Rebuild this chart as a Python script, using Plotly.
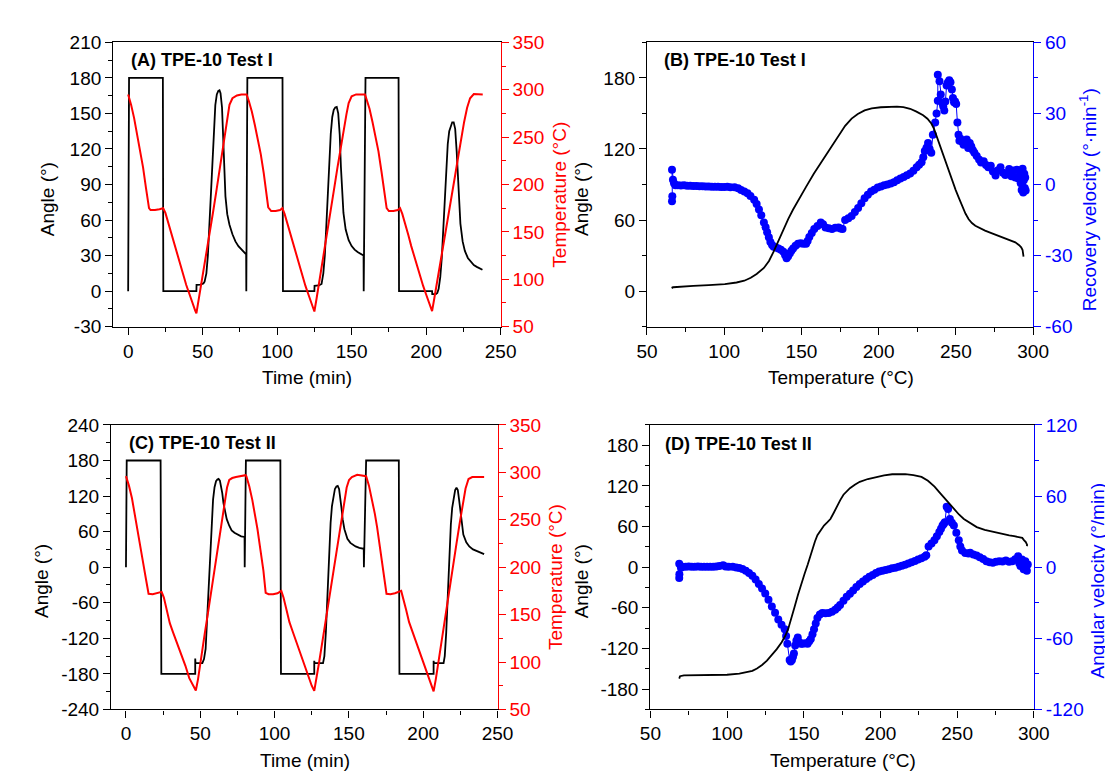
import plotly.graph_objects as go

# ---------------- data ----------------
# (A) TPE-10 Test I : angle (deg) and temperature (C) vs time (min)
a_ang_t = [0, 0.6, 23.3, 23.6, 45.8, 45.9, 48.5, 50.5, 51.3, 52.5, 53.5, 54.5, 55.5, 56.5, 57.5, 58.5,
           59.5, 60.5, 61.3, 62, 63, 63.8, 64.5, 65.3, 66.5, 68, 70, 72, 74, 76, 78, 79.2, 79.3, 80,
           103.6, 103.9,
           125, 125.1, 128, 129.8, 131, 132, 133, 134, 135, 136, 137, 138, 139, 140, 141, 142, 142.8,
           143.5, 144.5, 146, 148, 150, 152, 154, 156, 158, 158.1, 159.3, 181.5, 181.8,
           204, 204.1, 206.5, 207.5, 208.4, 209.5, 210.5, 211.5, 212.5, 213.5, 214.5, 215.5, 216.5,
           217.5, 218.5, 219.5, 220.5, 221.3, 222, 223, 224.5, 226, 228, 230, 232, 234, 236, 237.8]
a_ang = [0, 180, 180, 0, 0, 5.3, 5.5, 6.5, 8, 15, 30, 55, 85, 115, 140, 157,
         166, 169, 169.5, 167, 155, 130, 100, 80, 65, 56, 48, 42, 38, 35, 32.5, 31, 0, 180,
         180, 0,
         0, 4.5, 4.8, 6, 15, 30, 55, 85, 112, 133, 147, 153, 155, 155.5, 150, 132, 105,
         85, 66, 52, 43, 38, 35, 33, 31.5, 30, 0, 180, 180, 0,
         0, -2.5, -2.5, -1.5, 2, 12, 28, 52, 80, 105, 124, 135, 140,
         142.5, 142.5, 137, 118, 95, 75, 57, 42, 34, 28, 24.5, 22, 20.5, 19, 18]
a_tmp_t = [0, 2, 4, 6, 8, 10, 12, 14, 15, 18, 21, 23.5, 25, 27, 29, 31, 33, 35, 37, 39,
           41, 43, 45, 45.8, 47, 49, 51, 53, 55, 57, 59, 61, 63, 65, 66.5, 68, 70, 73, 76, 79.5,
           81, 83, 85, 87, 89, 91, 93, 94, 96, 99, 102, 103.5, 105, 107, 109, 111, 113, 115, 117, 119,
           121, 123, 125, 126.5, 128.5, 130.5, 132.5, 134.5, 136.5, 138.5, 140.5, 142.5, 144.5, 146.5,
           148, 150, 153, 156, 159,
           160, 162, 164, 166, 168, 170, 172, 173.5, 175, 178, 181, 182.5, 184, 186, 188, 190, 192,
           194, 196, 198, 200, 202, 204, 205.5, 207.5, 209.5, 211.5, 213.5, 215.5, 217.5, 219.5,
           221.5, 223.5, 225.5, 227.5, 229.5, 232, 235, 238]
a_tmp = [295, 284, 270, 254, 238, 218, 196, 175, 173, 173, 174, 175, 170, 159, 147, 136, 125, 114, 104, 94,
         85, 75, 67, 64, 75, 94, 113, 133, 152, 171, 191, 211, 231, 252, 269, 284, 291, 294, 295, 295,
         288, 277, 263, 248, 232, 212, 190, 176, 172, 172, 173, 175, 169, 158, 147, 135, 124, 113, 103, 93,
         84, 74, 66, 80, 99, 119, 139, 158, 178, 198, 218, 238, 257, 274,
         286, 293, 295, 295, 295,
         290, 280, 266, 251, 235, 214, 192, 175, 172, 172, 173, 175, 169, 159, 147, 135, 124,
         113, 103, 93, 84, 75, 66.5, 80, 98, 117, 136, 154, 173, 192, 210,
         229, 248, 266, 281, 291, 295.5, 295.5, 295]

# (B) TPE-10 Test I : angle and recovery velocity vs temperature
b_ang_T = [66.2, 66.5, 67, 70, 80, 90, 100.4, 108, 113, 117.2, 121, 125.7, 129, 132, 135, 138.3,
           141.5, 144.6, 148.7, 153, 158, 163.5, 168.8, 174, 178.3, 182.5, 186.5, 190.9, 195.5,
           201.4, 206.5, 211.9, 216, 220.4, 224.5, 228.8, 231.6, 234.1, 235.7, 237.2, 239.3, 241.4,
           243.5, 245.7, 247.8, 249.9, 252, 254.1, 256.2, 258.3, 260.4, 262.6, 265.5, 268.9, 273,
           277.3, 281.5, 285.8, 288.5, 291, 292.3, 293.2, 293.6, 293.8]
b_ang = [3.8, 2.9, 3.3, 3.7, 4.4, 5.1, 5.9, 7.3, 8.8, 11.3, 14.5, 19.6, 25.5, 33.3, 42.5, 52.4,
         61, 68.9, 78.5, 88, 99, 110, 121, 132, 139.5, 145.6, 149.5, 152.5, 154.3,
         155.2, 155.6, 155.7, 155.3, 153.9, 151.5, 148.4, 145.5, 141.5, 137.5, 132, 124, 115.5,
         107, 99, 92, 85.3, 78.5, 71.7, 65.5, 60.7, 57.5, 55.2, 53, 51.1, 49,
         47, 45, 42.9, 41.2, 38.8, 37, 34.7, 32, 29.2]
b_vel_T = [66.2, 66.4, 66.2, 66.8, 67.5, 68.4, 70, 72, 74, 76,
           78, 80, 82, 84, 86, 88, 90, 92, 94, 96,
           98, 100, 102, 104, 106.7, 109, 110.9, 113, 115.1, 117,
           119.4, 121, 122.5, 124, 125.7, 126.8, 127.8, 128.9, 129.9, 131,
           132, 133.5, 135.1, 136.7, 138.3, 139.4, 140.4, 141.4, 142.5, 143.5,
           144.6, 146.2, 147.8, 149.5, 151.2, 153, 154, 155.1, 156.7, 158.3,
           160.4, 162.5, 164, 165.6, 167.7, 169.8, 171.9, 174, 175.3, 176.6,
           178.3, 180.4, 182.5, 184.6, 186.7, 188.8, 190.9, 193, 195.1, 197.2,
           199.4, 201.5, 203.6, 205.7, 207.8, 209.9, 212, 214.1, 216.2, 218.3,
           220.4, 222.5, 224.6, 226.2, 227.8, 228.9, 229.9, 231, 232, 233,
           234.1, 235.1, 236.6, 237.5, 238.3, 238.3, 239.4, 240.2, 241.1, 241.8,
           242.5, 243.2, 244, 244.8, 245.7, 246.5, 247.4, 248.1, 248.8, 249.5,
           250.2, 251, 251.7, 252.3, 253, 254, 255, 256, 257, 258,
           259, 260, 261, 262, 263.5, 265, 266.3, 268, 269.5, 271,
           272.6, 274, 275.7, 277.3, 278.9, 280.5, 282, 283.1, 284.5, 286,
           287.3, 288.5, 289.5, 290.5, 291.5, 292, 292.6, 293.2, 293.6, 294,
           294.3, 294.6, 294.9, 295.2]
b_vel = [-7.1, -5, 6.2, 2, 0.5, -0.3, -0.3, -0.4, -0.3, -0.5,
         -0.5, -0.6, -0.6, -0.7, -0.7, -0.8, -0.8, -0.9, -0.9, -1.0,
         -1.1, -1.1, -1.0, -1.2, -1.2, -1.6, -2.3, -2.9, -3.7, -4.8,
         -6.4, -8.2, -10.5, -13, -16, -18, -20.1, -22.3, -24.3, -25.5,
         -26.3, -26.6, -27, -27.5, -28.4, -29.8, -31.1, -30.3, -29, -28,
         -27, -25.8, -25, -24.8, -25, -25, -23.8, -22.2, -20.5, -18.8,
         -17.5, -16, -16.8, -18.1, -18.5, -18.8, -18.2, -18.1, -18.6, -18.8,
         -15, -14.2, -13.3, -11.6, -9.9, -7.9, -5.8, -4.3, -3, -2.2,
         -1.3, -0.8, -0.3, 0, 0.4, 1, 1.8, 2.5, 3.2, 3.9,
         4.6, 5.8, 7.3, 8.3, 9.4, 11.5, 14.1, 15.5, 17.5, 15,
         13.4, 21, 26.2, 30, 35.3, 46.3, 43.6, 38, 34.5, 33,
         31.2, 35, 41.8, 43, 44, 43.2, 40.1, 36.5, 34.7, 35,
         34, 26.2, 21, 18.5, 19.3, 18, 16.8, 18.2, 19, 15.4,
         17.5, 16, 14.5, 13.4, 12, 10.5, 9.3, 9.8, 8.2, 7.3,
         7.9, 5.5, 3.8, 6, 7.3, 5, 4, 4.6, 6.5, 3.5,
         5.9, 3, 6.2, 2.5, 5.2, 0.5, -2.3, 6.6, -3.4, 1.8,
         4.5, -1.5, 3, -2.5]

# (C) TPE-10 Test II : angle and temperature vs time
c_ang_t = [0, 0.5, 23.3, 23.8, 46.6, 46.6, 46.8, 51.4, 52.5, 53.6, 54.5, 55.3, 56, 56.8, 57.7, 58.6,
           59.6, 60.6, 61.5, 62.3, 63.2, 64, 64.8, 65.6, 66.7, 67.8, 69.5, 71.1, 73, 75.5, 77.5, 79.8,
           79.9, 80.7, 103.9, 104.3,
           126.7, 126.7, 126.9, 132.6, 133.5, 134.5, 135.3, 136, 136.8, 137.7, 138.6, 139.6, 140.6,
           141.6, 142.5, 143.4, 144.2, 145, 145.8, 147, 149, 151, 154.5, 157, 160, 160.1, 161.6,
           183.6, 184,
           207, 207, 207.2, 213.7, 214.5, 215.5, 216.3, 217, 217.8, 218.6, 219.5, 220.5, 221.5, 222.4,
           223.3, 224.1, 224.9, 225.7, 227, 229, 231, 233.5, 236, 238.5, 241]
c_ang = [0, 180, 180, -180, -180, -154, -162, -162, -155, -138, -95, -55, -5, 37, 80, 114,
         135, 145, 148, 149, 146, 138, 125, 108, 92, 81, 70, 62, 58, 54, 52, 51,
         0, 180, 180, -180,
         -180, -158, -162, -162, -150, -110, -60, -10, 35, 75, 103, 122, 132,
         136, 137, 132, 118, 100, 81, 64, 48, 41, 35, 32.5, 31, 0, 180,
         180, -180,
         -180, -158, -162, -162, -150, -110, -60, -10, 35, 72, 100, 120, 130, 134,
         130, 115, 95, 75, 55, 42, 35, 30, 27, 24, 22]
c_tmp_t = [0, 2, 4, 6, 7.6, 9.5, 11.5, 13.5, 15.2, 18, 21, 24, 25.5, 27.5, 29.5, 31.5, 33.5, 36, 38, 40,
           42.6, 45, 47, 48.5, 50, 51.4, 53, 55, 57, 58.5, 60.5, 62.5, 64.5, 66.5, 68, 69.5, 71.5, 74,
           77, 80.5,
           81, 83, 85, 87, 88.5, 90.5, 92.5, 94, 96, 99, 102, 104.5, 106, 108, 110, 112, 114, 116.5,
           118.5, 120.5, 123, 125, 126.7, 128.5, 130, 131.5, 133, 135, 137, 138.5, 140.5, 142.5,
           144.5, 146.5, 148.5, 150.1, 152, 155.6, 158.5, 161.6,
           163.5, 165.5, 167.5, 169, 171, 173, 174.5, 175.3, 178, 181, 185.2, 186.5, 188.5, 190.5,
           192.5, 194.5, 197, 199, 201, 203.5, 205.5, 207, 208.5, 210, 211.5, 213, 215, 217, 218.5,
           220.5, 222.5, 224.5, 226.5, 228.5, 230.5, 233, 236, 241]
c_tmp = [296, 286, 273, 256, 241, 223, 205, 187, 172, 171.5, 172.5, 174, 168, 155, 141, 132, 124, 114, 105, 96,
         83, 75, 70, 82, 100, 114, 130, 150, 170, 186, 206, 226, 244, 265, 284, 292, 294, 295,
         296, 297,
         296, 285, 271, 254, 240, 218, 196, 173, 171.5, 171.5, 172.5, 175, 168, 155, 142, 133, 124, 113,
         104, 95, 83, 75, 69.5, 84, 100, 115, 130, 150, 170, 186, 206, 226,
         246, 266, 284, 292, 295, 297.5, 297, 296,
         286, 272, 256, 242, 221, 199, 183, 172, 171.5, 172.5, 175, 168, 155, 142,
         133, 124, 113, 104, 95, 83, 75, 69, 82, 98, 114, 130, 150, 170, 186,
         206, 226, 246, 266, 283, 293, 295, 295, 295]

# (D) TPE-10 Test II : angle and angular velocity vs temperature
d_ang_T = [68.8, 69.3, 71.9, 80, 91, 100, 108, 112.5, 116.5, 119.5, 122.8, 126, 129.2, 132.4, 135.6,
           137.8, 139.8, 142, 144.1, 146.2, 148.3, 150.5, 152.6, 154.2, 155.8, 157.3, 158.9, 161,
           163.2, 165.3, 167.4, 169.5, 171.7, 173.8, 175.9, 178, 180.1, 183.3, 186.5, 191.8, 197.1,
           202.4, 207.7, 212, 216.2, 221.5, 226.8, 231, 235.3, 238.5, 241.6, 244.8, 248, 251.2,
           254.4, 258.6, 262.8, 268, 273.4, 278.7, 284, 287.2, 290.4, 292.5, 293.6, 294.8, 295.7, 295.4]
d_ang = [-164.5, -161, -159.7, -159.5, -159, -158.8, -157.3, -155.5, -153, -149.5, -144.4, -138, -130, -121, -110.9,
         -102, -91.6, -76, -58.2, -41, -24.7, -10, 4, 16.5, 28, 38, 47.1, 55,
         61.5, 66, 71.1, 80, 90.2, 99, 107, 112, 116.6, 121.8, 126.1, 130.2, 133.3,
         135.5, 137.2, 137.5, 137.4, 135.8, 133.3, 127.5, 118.9, 110.5, 102.3, 94, 85.5, 77.8,
         71.1, 64.5, 59.2, 55, 52, 49.4, 47.1, 45.8, 44.7, 43.3, 40, 37, 32.8, 31]
d_vel_T = [68.8, 68.9, 68.8, 69.9, 71, 73, 75, 77, 79, 81,
           83, 85, 87, 89, 91, 93, 95, 97.4, 99, 101,
           103.7, 106, 108, 110, 112.2, 114.3, 116.5, 118.6, 120.7, 122.8,
           124.9, 127, 129.2, 131.3, 133.4, 135.5, 137.6, 138.5, 139.3, 140.8,
           141.5, 142.3, 143, 143.6, 144.4, 145.2, 146.1, 147.2, 148.2, 149.3,
           150.9, 152.5, 153.6, 154.6, 155.7, 156.7, 157.8, 158.9, 160.5, 162.1,
           164.2, 166.3, 168.4, 170.5, 172.1, 173.7, 175.9, 178, 180.1, 182.2,
           184.3, 186.5, 188.6, 190.7, 192.8, 195, 197.1, 199.2, 201.3, 203.4,
           205.5, 207.6, 209.7, 211.9, 214, 216.1, 218.2, 220.3, 222.5, 224.6,
           226.7, 228.8, 229.9, 231.4, 233.3, 235.2, 236.8, 238.4, 239.5, 240.5,
           241.3, 242, 243.2, 244.1, 245.3, 246.6, 247.9, 249.5, 251.1, 252.1,
           253.2, 255.3, 257.4, 258.5, 260.6, 262.7, 264.8, 267, 269.1, 271.2,
           273.3, 275.4, 277.5, 279.6, 281.8, 283.9, 286, 287.9, 289.8, 290.5,
           291.3, 292.3, 292.9, 293.4, 294, 294.5, 295, 295.5, 296.1]
d_vel = [-9.2, -6, 2.9, -0.4, 0.4, 0.4, 0.5, 0.3, 0.4, 0.5,
         0.3, 0.4, 0.4, 0.3, 0.4, 0.6, 0.9, 1.7, 0.6, 0.4,
         0.3, -0.2, -0.6, -1.5, -3.1, -5, -7.2, -10.4, -14.1, -18,
         -22.3, -27.5, -33.2, -38.5, -44.2, -48.5, -52.4, -58, -64.7, -78.4,
         -79.5, -78.4, -75.5, -72.9, -66, -62, -59.3, -63.4, -64.5, -64.7,
         -64.2, -64.7, -62.5, -60.6, -56.5, -52.4, -47.5, -42.8, -40, -38.7,
         -38.9, -38.7, -37.5, -36, -34, -31.9, -28.3, -25, -22.4, -19.6,
         -16.8, -14.1, -12, -10, -8.1, -6.5, -5, -3.7, -3, -2.4,
         -1.8, -1, -0.5, 0.4, 1.2, 2, 3.1, 4.2, 5.3, 6.4,
         7.6, 8.8, 10, 17.4, 20, 22.8, 26, 29.7, 32.5, 35.1,
         36.5, 37.9, 51, 49, 40.6, 37.5, 35.1, 29, 22.8, 17.4,
         14, 11.9, 11.5, 12.2, 10.6, 9.8, 8.4, 6.8, 5.1, 4.2,
         3.7, 4.5, 5.1, 4.8, 5.6, 4.6, 5.1, 6.6, 9.2, 3.5,
         1, 6.4, 2.5, -1.8, 3.8, 5.1, 0.5, -3.1, 2.3]

# tick values
time_ticks = [0, 50, 100, 150, 200, 250]
temp_ticks = [50, 100, 150, 200, 250, 300]
tempR_ticks = [50, 100, 150, 200, 250, 300, 350]
a_ang_ticks = [-30, 0, 30, 60, 90, 120, 150, 180, 210]
b_ang_ticks = [0, 60, 120, 180]
b_vel_ticks = [-60, -30, 0, 30, 60]
c_ang_ticks = [-240, -180, -120, -60, 0, 60, 120, 180, 240]
d_ang_ticks = [-180, -120, -60, 0, 60, 120, 180]
d_vel_ticks = [-120, -60, 0, 60, 120]

# ---------------- figure ----------------
W, H = 1113, 774
FONT = "Liberation Sans, Arial, sans-serif"
BLACK, RED, BLUE = "#000000", "#ff0000", "#0000ff"


def fx(p):
    return p / W


def fy(p):
    return 1 - p / H


def axis(rng, ticks, minor, color=BLACK, **kw):
    d = dict(range=rng, tickmode="array", tickvals=ticks, ticktext=[str(t) for t in ticks],
             ticks="outside", ticklen=7, tickwidth=1.3, tickcolor=color,
             showline=True, linecolor=color, linewidth=1.3,
             tickfont=dict(family=FONT, size=19, color=color),
             minor=dict(tickmode="linear", tick0=0, dtick=minor, ticks="outside",
                        ticklen=4, tickwidth=1.3, tickcolor=color),
             showgrid=False, zeroline=False, fixedrange=True)
    d.update(kw)
    return d


fig = go.Figure()

# A
fig.add_trace(go.Scatter(x=a_ang_t, y=a_ang, mode="lines", line=dict(color=BLACK, width=1.8),
                         xaxis="x", yaxis="y"))
fig.add_trace(go.Scatter(x=a_tmp_t, y=a_tmp, mode="lines", line=dict(color=RED, width=2),
                         xaxis="x", yaxis="y2"))
# B (velocity on base axis so the angle curve sits on top)
fig.add_trace(go.Scatter(x=b_vel_T, y=b_vel, mode="lines+markers", line=dict(color=BLUE, width=1),
                         marker=dict(color=BLUE, size=8), xaxis="x2", yaxis="y3"))
fig.add_trace(go.Scatter(x=b_ang_T, y=b_ang, mode="lines", line=dict(color=BLACK, width=1.8),
                         xaxis="x2", yaxis="y4"))
# C
fig.add_trace(go.Scatter(x=c_ang_t, y=c_ang, mode="lines", line=dict(color=BLACK, width=1.8),
                         xaxis="x3", yaxis="y5"))
fig.add_trace(go.Scatter(x=c_tmp_t, y=c_tmp, mode="lines", line=dict(color=RED, width=2),
                         xaxis="x3", yaxis="y6"))
# D
fig.add_trace(go.Scatter(x=d_vel_T, y=d_vel, mode="lines+markers", line=dict(color=BLUE, width=1),
                         marker=dict(color=BLUE, size=8), xaxis="x4", yaxis="y7"))
fig.add_trace(go.Scatter(x=d_ang_T, y=d_ang, mode="lines", line=dict(color=BLACK, width=1.8),
                         xaxis="x4", yaxis="y8"))

top_dom = [fy(317.3), fy(25)]
bot_dom = [fy(710.7), fy(418.3)]

fig.update_layout(
    width=W, height=H, margin=dict(l=0, r=0, t=0, b=0),
    paper_bgcolor="white", plot_bgcolor="white", showlegend=False,
    xaxis=axis([-10, 250], time_ticks, 25, domain=[fx(96.6), fx(493.6)], anchor="y", mirror=True),
    yaxis=axis([-30, 210], a_ang_ticks, 15, domain=top_dom, anchor="x"),
    yaxis2=axis([50, 350], tempR_ticks, 25, RED, overlaying="y", side="right", anchor="x"),
    xaxis2=axis([50, 300], temp_ticks, 25, domain=[fx(643.6), fx(1039.3)], anchor="y3",
                mirror=True),
    yaxis3=axis([-60, 60], b_vel_ticks, 15, BLUE, domain=top_dom, anchor="x2", side="right"),
    yaxis4=axis([-30, 210], b_ang_ticks, 30, overlaying="y3", side="left", anchor="x2"),
    xaxis3=axis([-10, 250], time_ticks, 25, domain=[fx(94.4), fx(490.4)], anchor="y5", mirror=True),
    yaxis5=axis([-240, 240], c_ang_ticks, 30, domain=bot_dom, anchor="x3"),
    yaxis6=axis([50, 350], tempR_ticks, 25, RED, overlaying="y5", side="right", anchor="x3"),
    xaxis4=axis([50, 300], temp_ticks, 25, domain=[fx(647.1), fx(1040)], anchor="y7",
                mirror=True),
    yaxis7=axis([-120, 120], d_vel_ticks, 30, BLUE, domain=bot_dom, anchor="x4", side="right"),
    yaxis8=axis([-210, 210], d_ang_ticks, 30, overlaying="y7", side="left", anchor="x4"),
)

# panel labels and axis titles (placed as text at the reference positions)
labels = [
    ("(A) TPE-10 Test I", 112.5, 43.5),
    ("(B) TPE-10 Test I", 658.5, 43.5),
    ("(C) TPE-10 Test II", 110.7, 436.7),
    ("(D) TPE-10 Test II", 660.4, 438.3),
]
for txt, x, y in labels:
    fig.add_annotation(text="<b>%s</b>" % txt, x=fx(x), y=fy(y), xref="paper", yref="paper",
                       xanchor="left", yanchor="middle", showarrow=False,
                       font=dict(family=FONT, size=18, color=BLACK))

titles = [
    ("Time (min)", 295.5, 370, 0, BLACK),
    ("Angle (°)", 30, 186, -90, BLACK),
    ("Temperature (°C)", 553, 182, -90, RED),
    ("Temperature (°C)", 842.5, 370, 0, BLACK),
    ("Angle (°)", 577, 186, -90, BLACK),
    ("Recovery velocity (°·min<sup>-1</sup>)", 1096, 187, -90, BLUE),
    ("Time (min)", 293, 763, 0, BLACK),
    ("Angle (°)", 23.3, 579, -90, BLACK),
    ("Temperature (°C)", 550, 575, -90, RED),
    ("Temperature (°C)", 844, 763, 0, BLACK),
    ("Angle (°)", 576, 579, -90, BLACK),
    ("Angular velocity (°/min)", 1105, 578, -90, BLUE),
]
for txt, x, y, ang, col in titles:
    fig.add_annotation(text=txt, x=fx(x), y=fy(y), xref="paper", yref="paper",
                       xanchor="center", yanchor="middle", textangle=ang, showarrow=False,
                       font=dict(family=FONT, size=19, color=col))

fig.write_html("out.html")
